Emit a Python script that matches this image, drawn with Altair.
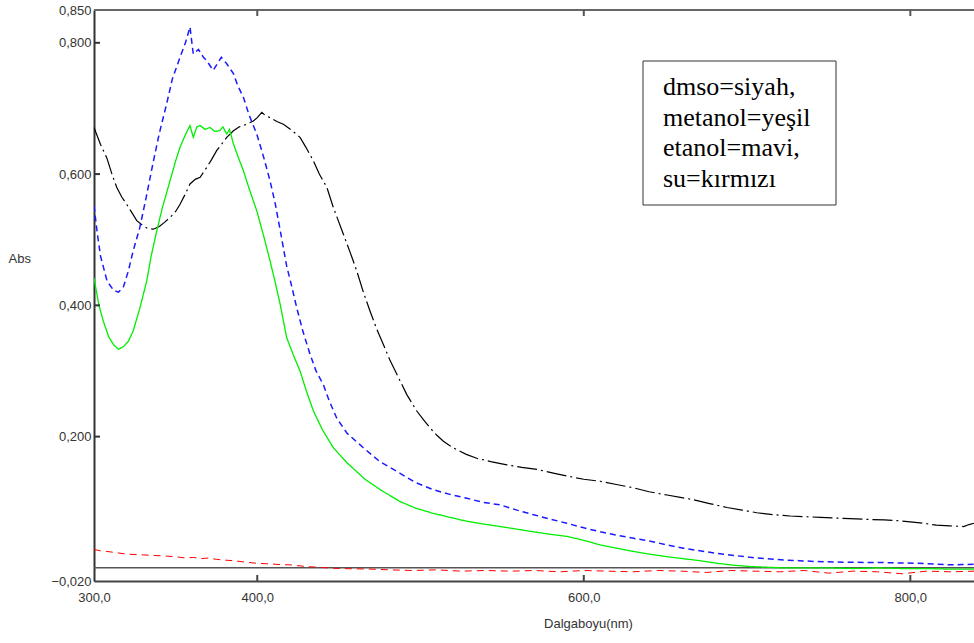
import altair as alt
import pandas as pd

# ---------------- data ----------------
dmso_x = [300, 304, 307.8, 311, 313.9, 317, 320, 323, 326.2, 330.2, 333, 336.3, 340, 343, 346.6,
          350, 352.7, 356, 358.8, 362, 365, 369, 372, 375.2, 378, 381.3, 385.4, 389, 393.6, 397.6,
          400, 402.8, 405, 407.8, 412, 416, 421, 426.2, 430, 434.4, 438, 442.6, 446.6, 452.8, 457,
          461, 465, 469.1, 473, 477.3, 481, 485.5, 491.6, 497.7, 502, 505.9, 510, 514, 518, 522.2,
          528, 534.4, 543, 552.9, 562, 571.3, 582, 591.7, 600, 610, 620, 630.5, 640, 651, 660, 667,
          677, 687.7, 697, 706, 716, 726.5, 735, 745, 754, 763, 773, 784, 792, 800, 808, 816, 824,
          832.6, 836, 839]
dmso_y = [0.671, 0.645, 0.625, 0.600, 0.580, 0.565, 0.554, 0.542, 0.529, 0.521, 0.517, 0.516, 0.520,
          0.526, 0.534, 0.543, 0.554, 0.570, 0.585, 0.592, 0.595, 0.610, 0.622, 0.636, 0.645, 0.656,
          0.666, 0.672, 0.676, 0.681, 0.686, 0.694, 0.689, 0.686, 0.680, 0.676, 0.667, 0.656, 0.640,
          0.620, 0.600, 0.580, 0.549, 0.508, 0.480, 0.452, 0.420, 0.391, 0.365, 0.340, 0.318, 0.295,
          0.264, 0.239, 0.225, 0.213, 0.202, 0.193, 0.186, 0.180, 0.173, 0.167, 0.162, 0.157, 0.153,
          0.150, 0.144, 0.139, 0.135, 0.132, 0.127, 0.122, 0.116, 0.111, 0.107, 0.104, 0.098, 0.092,
          0.088, 0.084, 0.081, 0.079, 0.078, 0.077, 0.076, 0.075, 0.074, 0.073, 0.072, 0.070, 0.068,
          0.065, 0.064, 0.063, 0.066, 0.068]

etanol_x = [300, 302, 304, 308, 312, 315, 318, 321, 324, 328, 332, 336, 340, 344.5, 348, 352.7, 356,
            358.8, 360.8, 364, 367, 369, 373, 376, 378, 381.3, 385.4, 388, 391.5, 395, 399.7, 404,
            407.8, 411, 414, 418, 421, 424.2, 428, 432.4, 436, 440.5, 444, 448.7, 455, 465, 475,
            487.5, 497, 507.9, 518, 528.4, 538, 548.8, 559, 569.2, 580, 589.6, 600, 610, 620, 630.5,
            640, 651, 661, 671, 681.5, 692, 702, 712, 722.4, 732, 743, 753, 763, 774, 784, 794, 804,
            814, 824.5, 832, 839]
etanol_y = [0.552, 0.510, 0.475, 0.437, 0.423, 0.420, 0.428, 0.452, 0.483, 0.518, 0.565, 0.615,
            0.662, 0.707, 0.745, 0.778, 0.800, 0.824, 0.783, 0.790, 0.778, 0.773, 0.758, 0.770,
            0.778, 0.768, 0.753, 0.735, 0.717, 0.690, 0.661, 0.625, 0.590, 0.555, 0.515, 0.460,
            0.430, 0.396, 0.360, 0.325, 0.300, 0.279, 0.255, 0.228, 0.205, 0.183, 0.162, 0.144,
            0.130, 0.119, 0.112, 0.106, 0.100, 0.096, 0.088, 0.081, 0.074, 0.068, 0.061, 0.055,
            0.050, 0.045, 0.041, 0.035, 0.030, 0.026, 0.022, 0.019, 0.016, 0.014, 0.012, 0.011,
            0.0096, 0.009, 0.0086, 0.0083, 0.008, 0.0075, 0.007, 0.006, 0.0046, 0.005, 0.0055]

metanol_x = [300, 303, 305.7, 309, 312, 315, 318, 321, 324, 328, 332.3, 335, 338.4, 342, 346.6, 350,
             352.7, 356, 358.8, 360.8, 363, 365, 368, 371, 374, 377, 379, 381.3, 383, 385.4, 388,
             391.5, 395, 399.7, 404, 407.8, 411, 414, 418, 422, 426.2, 430, 434.4, 440, 446.6, 455,
             466, 476, 487.5, 497, 507.9, 518, 528.4, 538, 548.8, 559, 569, 580, 589.6, 600, 610,
             620, 630.5, 640, 651, 661, 671, 681.5, 692, 702, 712, 722, 735, 750, 765, 780, 795, 810,
             825, 839]
metanol_y = [0.442, 0.400, 0.376, 0.352, 0.340, 0.333, 0.337, 0.345, 0.361, 0.395, 0.437, 0.475,
             0.513, 0.550, 0.590, 0.620, 0.641, 0.660, 0.674, 0.656, 0.672, 0.674, 0.668, 0.671,
             0.665, 0.666, 0.672, 0.661, 0.668, 0.646, 0.628, 0.605, 0.578, 0.544, 0.505, 0.468,
             0.435, 0.402, 0.351, 0.325, 0.300, 0.270, 0.239, 0.210, 0.183, 0.160, 0.135, 0.118,
             0.101, 0.091, 0.083, 0.077, 0.071, 0.067, 0.063, 0.059, 0.055, 0.051, 0.048, 0.042,
             0.035, 0.030, 0.025, 0.021, 0.017, 0.014, 0.011, 0.007, 0.004, 0.002, 0.001, 0.000,
             0.000, 0.000, -0.001, 0.000, -0.001, -0.001, -0.002, -0.002]

su_x = [300, 304, 308, 314, 320, 328, 336, 344, 350, 356, 361, 365, 370, 375, 379, 385, 392, 399.7,
        408, 414, 420, 430, 440, 450, 461, 471, 481, 495, 510, 525, 540, 555, 570, 585, 600, 615,
        630, 645, 660, 675, 690, 705, 720, 735, 750, 765, 780, 795, 810, 825, 839]
su_y = [0.028, 0.026, 0.025, 0.023, 0.021, 0.020, 0.019, 0.018, 0.017, 0.015, 0.016, 0.014, 0.015,
        0.013, 0.012, 0.011, 0.009, 0.007, 0.006, 0.005, 0.0046, 0.002, 0.0005, -0.001, -0.0015,
        -0.002, -0.003, -0.004, -0.003, -0.005, -0.004, -0.005, -0.004, -0.006, -0.004, -0.005,
        -0.006, -0.004, -0.005, -0.007, -0.004, -0.005, -0.006, -0.004, -0.008, -0.005, -0.006,
        -0.009, -0.005, -0.006, -0.005]

x_label_values = [300, 400, 600, 800]
x_tick_values = [400, 600, 800]
y_label_values = [-0.02, 0.2, 0.4, 0.6, 0.8, 0.85]
y_tick_values = [0.2, 0.4, 0.6, 0.8]
x_domain = [300, 839]
y_domain = [-0.02, 0.85]
legend_lines = ["dmso=siyah,", "metanol=yeşil", "etanol=mavi,", "su=kırmızı"]

# ---------------- chart ----------------
FONT = "Liberation Sans"
AX = "#444444"
xs = alt.Scale(domain=x_domain, nice=False, zero=False)
ys = alt.Scale(domain=y_domain, nice=False, zero=False)

one = pd.DataFrame({"k": [0]})

x_axis = alt.Axis(
    values=x_label_values,
    labelExpr="replace(format(datum.value, '.1f'), '.', ',')",
    title="Dalgaboyu(nm)", titleFont=FONT, titleFontSize=13, titleFontWeight="normal",
    titleColor="#333333", titleX=494, titleY=42, titleBaseline="middle",
    labelFont=FONT, labelFontSize=13, labelColor="#333333", labelPadding=10,
    ticks=False, tickSize=0, grid=False, domainColor=AX, domainWidth=2, labelFlush=False,
)
y_axis = alt.Axis(
    values=y_label_values,
    labelExpr="replace(format(datum.value, '.3f'), '.', ',')",
    title="Abs", titleAngle=0, titleX=-86, titleY=248, titleAlign="left",
    titleBaseline="middle", titleFont=FONT, titleFontSize=13, titleFontWeight="normal",
    titleColor="#333333",
    labelFont=FONT, labelFontSize=13, labelColor="#333333", labelPadding=3,
    ticks=False, tickSize=0, grid=False, domainColor="#333333", domainWidth=2,
    labelFlush=False,
)

def X(field):
    return alt.X(field, scale=xs, axis=x_axis)

def Y(field):
    return alt.Y(field, scale=ys, axis=y_axis)

zero_line = alt.Chart(pd.DataFrame({"z": [0.0]})).mark_rule(
    color="#555555", strokeWidth=1.5
).encode(y=Y("z:Q"))

top_border = alt.Chart(pd.DataFrame({"z": [y_domain[1]]})).mark_rule(
    color="#666666", strokeWidth=2
).encode(y=Y("z:Q"))

def series_layer(xv, yv, color, dash, width):
    df = pd.DataFrame({"x": xv, "y": yv})
    return alt.Chart(df).mark_line(
        color=color, strokeDash=dash, strokeWidth=width, clip=True
    ).encode(x=X("x:Q"), y=Y("y:Q"))

red = series_layer(su_x, su_y, "#ff0000", [7, 5], 1.0)
black = series_layer(dmso_x, dmso_y, "#000000", [20, 4, 2, 4], 1.2)
blue = series_layer(etanol_x, etanol_y, "#1a1aff", [6, 4], 1.5)
green = series_layer(metanol_x, metanol_y, "#00ee00", [1, 0], 1.3)

xt = pd.DataFrame({"x": x_tick_values, "b": [y_domain[0]] * 3, "t": [y_domain[1]] * 3})
bottom_ticks = alt.Chart(xt).mark_rule(color=AX, strokeWidth=2, y2Offset=-6).encode(
    x=X("x:Q"), y=Y("b:Q"), y2="b:Q",
)
top_ticks = alt.Chart(xt).mark_rule(color="#555555", strokeWidth=2, y2Offset=6).encode(
    x=X("x:Q"), y=Y("t:Q"), y2="t:Q",
)
yt = pd.DataFrame({"y": y_tick_values, "l": [x_domain[0]] * 4})
left_ticks = alt.Chart(yt).mark_rule(color="#333333", strokeWidth=2, x2Offset=6).encode(
    y=Y("y:Q"), x=X("l:Q"), x2="l:Q",
)

box = alt.Chart(one).mark_rect(fill="white", stroke="#333333", strokeWidth=1).encode(
    x=alt.value(549), x2=alt.value(742), y=alt.value(51), y2=alt.value(195)
)
box_text = alt.Chart(one).mark_text(
    align="left", baseline="alphabetic", font="Liberation Serif", fontSize=26,
    lineHeight=30.5, color="#000000", text=legend_lines,
).encode(x=alt.value(569), y=alt.value(85))

chart = alt.layer(
    zero_line, red, black, blue, green, top_border, bottom_ticks, top_ticks, left_ticks,
    box, box_text,
).properties(
    width=880, height=571,
    padding={"left": 94, "top": 10, "right": 0, "bottom": 62},
    autosize=alt.AutoSizeParams(type="none"),
    background="white",
).configure_view(stroke=None)

chart.save("out.html", embed_options={"renderer": "svg", "actions": False})
